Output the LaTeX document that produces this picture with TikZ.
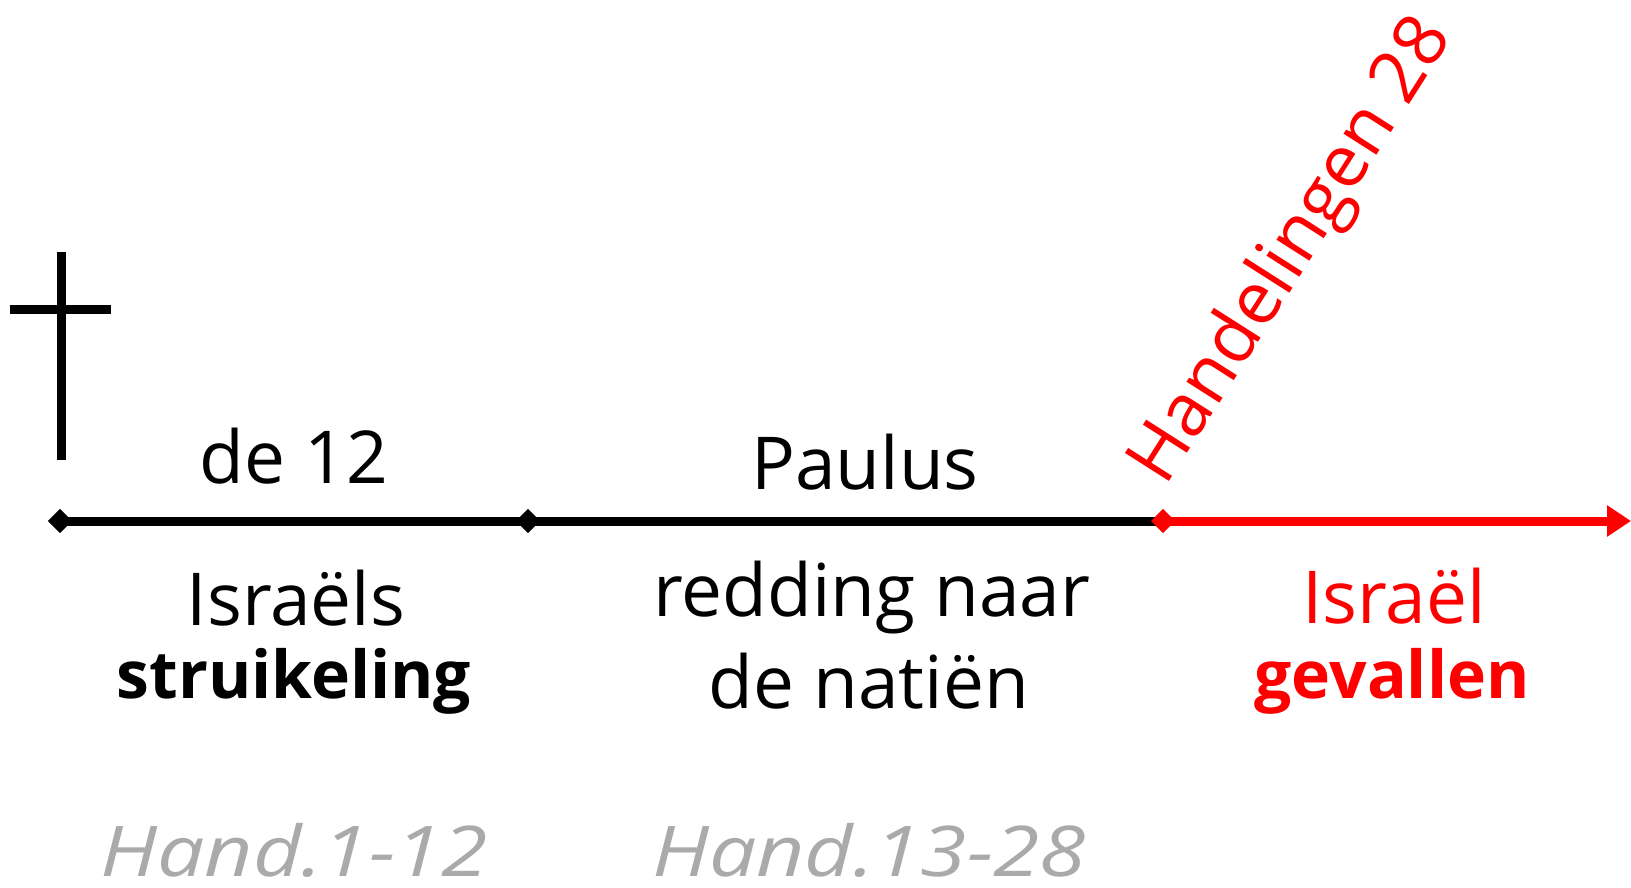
\documentclass[tikz,border=0pt]{standalone}
\usepackage{fontspec}
\setmainfont{Open Sans}
\usetikzlibrary{shapes.geometric,arrows.meta}
\definecolor{lgray}{RGB}{170,170,170}
\tikzset{
  lbl/.style={font=\fontsize{73}{76}\selectfont, inner sep=0pt, anchor=center},
  blbl/.style={lbl, font=\fontsize{66}{70}\selectfont\bfseries},
  glbl/.style={lbl, text=lgray, font=\fontsize{70}{74}\selectfont\itshape, xscale=1.2},
  mark dot/.style={diamond, fill=#1, minimum size=24pt, inner sep=0pt},
  tline/.style={line width=9pt},
}
\begin{document}
\begin{tikzpicture}[x=1pt,y=-1pt]
\useasboundingbox (0,0) rectangle (1631,887);
% cross
\draw[line width=9pt] (61,252) -- (61,460);
\draw[line width=9pt] (10,309) -- (111,309);
% timeline
\node[mark dot=black] (d1) at (60,521) {};
\node[mark dot=black] (d2) at (528,521) {};
\node[mark dot=red] (d3) at (1163,521) {};
\coordinate (end) at (1631,521);
\draw[tline] (d1.center) -- (d2.center) -- (d3.center);
\draw[tline, red, -{Triangle[length=24pt,width=30pt]}] (d3.center) -- (end);
\node[mark dot=black] at (d1) {};
\node[mark dot=black] at (d2) {};
\node[mark dot=red] at (d3) {};
% labels
\node[lbl] (t1) at (294,456) {de 12};
\node[lbl] (t2) at (865,462) {Paulus};
\node[lbl] (t3) at (296,598) {Israëls};
\node[blbl] (t4) at (294,681) {struikeling};
\node[lbl] (t5) at (872,598) {redding naar};
\node[lbl] (t6) at (869,681) {de natiën};
\node[lbl, text=red] (t7) at (1394,596) {Israël};
\node[blbl, text=red] (t8) at (1392,681) {gevallen};
\node[glbl] (t9) at (294,850) {Hand.1-12};
\node[glbl] (t10) at (869,850) {Hand.13-28};
\node[lbl, text=red, rotate=57.5] (t11) at (1293,252) {Handelingen 28};
\end{tikzpicture}
\end{document}
